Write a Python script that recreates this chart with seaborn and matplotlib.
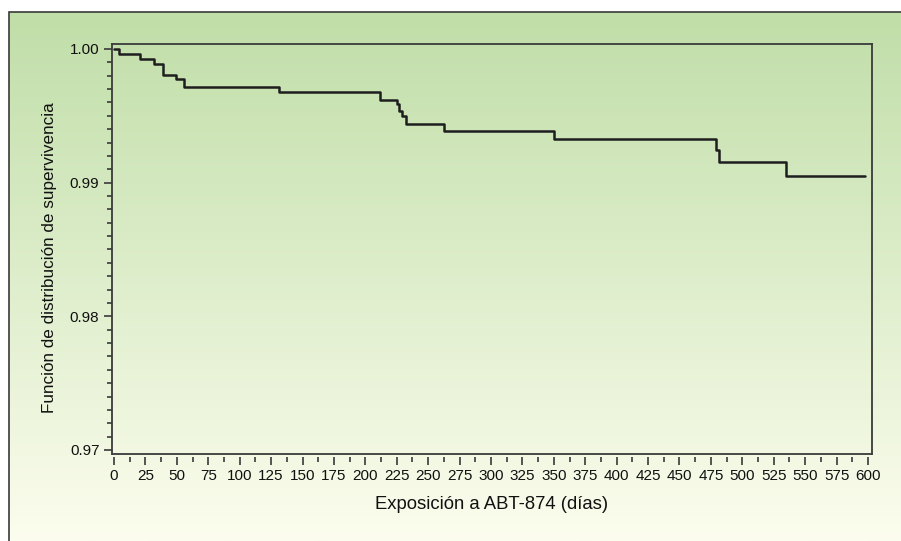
import numpy as np
import pandas as pd
import matplotlib
matplotlib.use("Agg")
import matplotlib.pyplot as plt
import seaborn as sns
from matplotlib.patches import Rectangle
from matplotlib.ticker import MultipleLocator

# Curva de supervivencia (Kaplan-Meier)
dias = [0, 4.0, 20.9, 31.6, 39.2, 49.6, 55.5, 131.0, 211.4, 225.0, 227.0,
        229.2, 232.4, 262.6, 350.1, 479.0, 481.4, 534.7, 597.6]
supervivencia = [1.0, 0.99963, 0.99923, 0.99886, 0.99803, 0.99773, 0.99718,
                 0.99681, 0.99619, 0.99589, 0.99539, 0.99499, 0.99442,
                 0.99389, 0.99325, 0.99245, 0.99155, 0.99053, 0.99053]
x_ticks = list(range(0, 601, 25))
y_ticks = [0.97, 0.98, 0.99, 1.00]
y_labels = ["0.97", "0.98", "0.99", "1.00"]

df = pd.DataFrame({"dias": dias, "surv": supervivencia})

sns.set_style("ticks")
plt.rcParams['font.family'] = ['Liberation Sans', 'DejaVu Sans']

W, H = 901, 541
fig = plt.figure(figsize=(W / 100, H / 100), dpi=100)
fig.patch.set_facecolor("white")

# fondo degradado verde -> amarillo claro
fx0, ftop = 9, 12
bg = fig.add_axes([fx0 / W, 0, 1 - fx0 / W, (H - ftop) / H], zorder=0)
top = np.array([192, 222, 168]) / 255
bot = np.array([252, 253, 238]) / 255
t = np.linspace(0, 1, 256)[:, None]
grad = top[None, :] * (1 - t) + bot[None, :] * t
bg.imshow(grad[:, None, :], aspect="auto", extent=[0, 1, 0, 1])
bg.set_axis_off()
fig.patches.append(Rectangle((fx0 / W, -0.05), 1.2, (H - ftop) / H + 0.05,
                             transform=fig.transFigure, fill=False,
                             edgecolor="#3a3a3a", linewidth=1.2, zorder=5))

ax = fig.add_axes([112 / W, 87 / H, 760 / W, 410 / H], zorder=1)
ax.set_facecolor("none")

sns.lineplot(data=df, x="dias", y="surv", drawstyle="steps-post",
             estimator=None, color="#1e1e1e", linewidth=1.8, ax=ax)

ax.set_xlim(-1.6, 603.2)
ax.set_ylim(0.96970, 1.00037)
ax.set_xticks(x_ticks)
ax.set_xticklabels([str(v) for v in x_ticks])
ax.set_yticks(y_ticks)
ax.set_yticklabels(y_labels)
ax.xaxis.set_minor_locator(MultipleLocator(12.5))
ax.yaxis.set_minor_locator(MultipleLocator(0.001))

for s in ax.spines.values():
    s.set_color("#3a3a3a")
    s.set_linewidth(1.3)
ax.spines["bottom"].set_position(("outward", 2))
ax.spines["bottom"].set_visible(False)
ax.plot([0, 1], [0, 0], transform=ax.transAxes, color="#3a3a3a",
        linewidth=1.3, clip_on=False)

ax.tick_params(axis="both", which="major", direction="out", length=6,
               width=1.2, color="#3a3a3a", labelsize=11, pad=3,
               labelcolor="#111111")
ax.tick_params(axis="both", which="minor", direction="out", length=3.5,
               width=1.2, color="#3a3a3a")

ax.set_xlabel("Exposición a ABT-874 (días)", fontsize=13.3, color="#111111",
              labelpad=9)
ax.set_ylabel("Función de distribución de supervivencia", fontsize=12.3,
              color="#111111")
ax.yaxis.set_label_coords(-0.072, 0.478)

fig.savefig("out.png", dpi=100)
